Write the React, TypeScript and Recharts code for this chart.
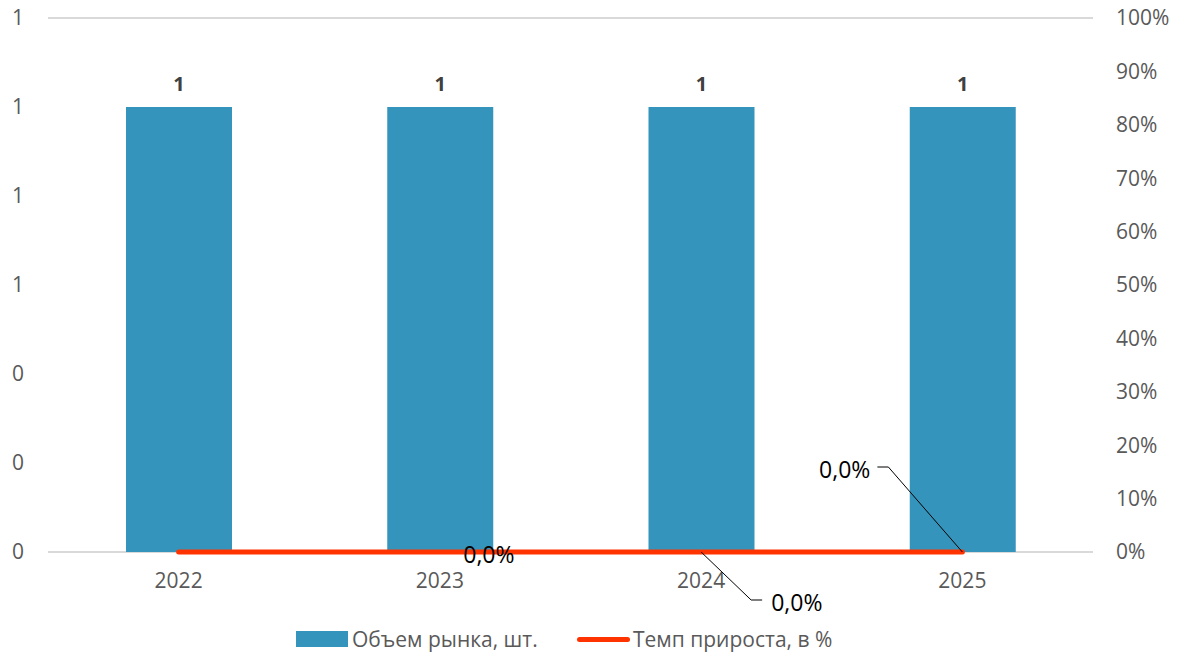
import React from "react";
import {
  ComposedChart,
  Bar,
  Line,
  XAxis,
  YAxis,
  CartesianGrid,
  LabelList,
} from "recharts";

const years = ["2022", "2023", "2024", "2025"];
const marketVolume = [1, 1, 1, 1];
const growthRate = [0, 0, 0, 0];
const leftTicks = [0, 0.2, 0.4, 0.6, 0.8, 1.0, 1.2];
const rightTicks = [0, 0.1, 0.2, 0.3, 0.4, 0.5, 0.6, 0.7, 0.8, 0.9, 1.0];
const seriesNames = ["Объем рынка, шт.", "Темп прироста, в %"];

const data = years.map((y, i) => ({
  year: y,
  volume: marketVolume[i],
  growth: growthRate[i],
}));

const FONT = "'Open Sans', sans-serif";
const BLUE = "#3594BB";
const RED = "#FF3300";

const fmtPct = (v: number) => (v * 100).toFixed(1).replace(".", ",") + "%";

const GrowthLabel = (props: any) => {
  const { x, y, index, value } = props;
  const text = fmtPct(value);
  const style = { fontFamily: FONT, fontSize: 23, fill: "#000" };
  if (index === 1) {
    return (
      <text x={x + 49} y={y + 2} textAnchor="middle" dominantBaseline="central" style={style}>
        {text}
      </text>
    );
  }
  if (index === 2) {
    return (
      <g>
        <polyline
          points={`${x},${y} ${x + 50},${y + 48} ${x + 61},${y + 48}`}
          fill="none"
          stroke="#000"
          strokeWidth={1}
        />
        <text x={x + 70} y={y + 50} textAnchor="start" dominantBaseline="central" style={style}>
          {text}
        </text>
      </g>
    );
  }
  if (index === 3) {
    return (
      <g>
        <polyline
          points={`${x},${y} ${x - 74},${y - 85} ${x - 85},${y - 85}`}
          fill="none"
          stroke="#000"
          strokeWidth={1}
        />
        <text x={x - 92} y={y - 83} textAnchor="end" dominantBaseline="central" style={style}>
          {text}
        </text>
      </g>
    );
  }
  return null;
};

const tickStyle = { fill: "#595959", fontSize: 21, fontFamily: FONT };

export default function App() {
  return (
    <div style={{ position: "absolute", left: 0, top: 0, width: 1184, height: 657, background: "#fff" }}>
      <ComposedChart
        width={1184}
        height={657}
        data={data}
        margin={{ top: 18, right: 0, bottom: 65, left: 0 }}
      >
        <CartesianGrid vertical={false} stroke="#d9d9d9" strokeWidth={2} />
        <XAxis
          dataKey="year"
          tickLine={false}
          tickSize={0}
          tickMargin={21}
          axisLine={false}
          tick={tickStyle}
          height={40}
        />
        <YAxis
          yAxisId="left"
          orientation="left"
          width={48}
          domain={[0, 1.2]}
          ticks={leftTicks}
          tickFormatter={(v: number) => String(Math.round(v))}
          tickLine={false}
          axisLine={false}
          tickSize={0}
          tickMargin={24}
          tick={tickStyle}
        />
        <YAxis
          yAxisId="right"
          orientation="right"
          width={91}
          domain={[0, 1]}
          ticks={rightTicks}
          tickFormatter={(v: number) => Math.round(v * 100) + "%"}
          tickLine={false}
          axisLine={false}
          tickSize={0}
          tickMargin={23}
          tick={tickStyle}
        />
        <Bar
          yAxisId="left"
          dataKey="volume"
          name={seriesNames[0]}
          fill={BLUE}
          barSize={106}
          isAnimationActive={false}
        >
          <LabelList
            dataKey="volume"
            position="top"
            offset={16}
            formatter={(v: any) => String(Math.round(v))}
            style={{ fontFamily: FONT, fontSize: 20, fontWeight: 700, fill: "#404040" }}
          />
        </Bar>
        <Line
          yAxisId="right"
          dataKey="growth"
          name={seriesNames[1]}
          stroke={RED}
          strokeWidth={5}
          strokeLinecap="round"
          dot={false}
          activeDot={false}
          isAnimationActive={false}
        >
          <LabelList dataKey="growth" content={<GrowthLabel />} />
        </Line>
      </ComposedChart>
      <div
        style={{
          position: "absolute",
          left: 296,
          top: 625,
          height: 28,
          display: "flex",
          alignItems: "center",
          fontFamily: FONT,
          fontSize: 21,
          color: "#595959",
          whiteSpace: "nowrap",
        }}
      >
        <div style={{ width: 52, height: 16, background: BLUE, marginRight: 4 }} />
        <span>{seriesNames[0]}</span>
      </div>
      <div
        style={{
          position: "absolute",
          left: 577,
          top: 625,
          height: 28,
          display: "flex",
          alignItems: "center",
          fontFamily: FONT,
          fontSize: 21,
          color: "#595959",
          whiteSpace: "nowrap",
        }}
      >
        <div style={{ width: 53, height: 5, borderRadius: 3, background: RED, marginRight: 3 }} />
        <span>{seriesNames[1]}</span>
      </div>
    </div>
  );
}
